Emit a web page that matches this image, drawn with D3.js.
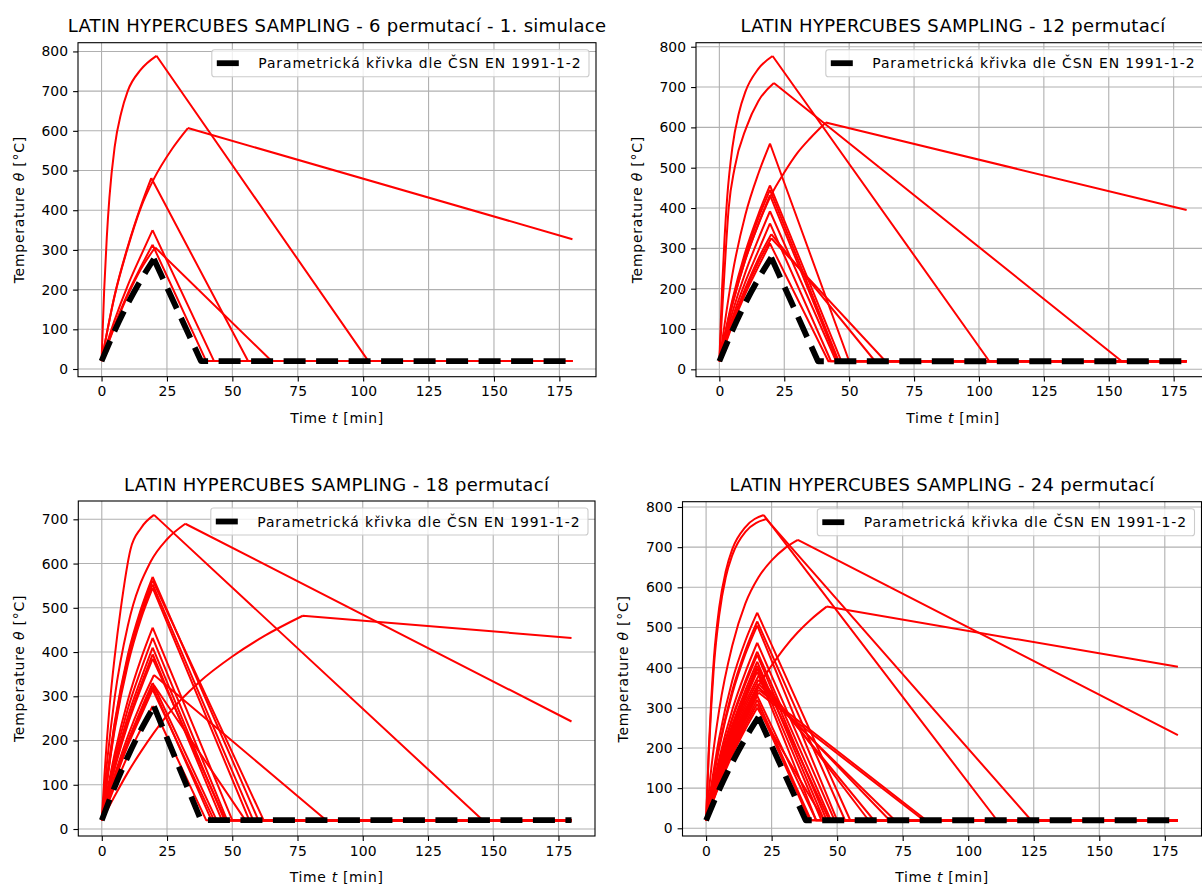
<!DOCTYPE html>
<html>
<head>
<meta charset="utf-8">
<script src="https://cdn.jsdelivr.net/npm/d3@7"></script>
<style>
  body { margin: 0; background: #fff; }
  svg { font-family: "DejaVu Sans", sans-serif; }
</style>
</head>
<body>
<svg id="fig" width="1202" height="885"></svg>
<script>
// tick labels
const xTicks = [0, 25, 50, 75, 100, 125, 150, 175];
const yTicks800 = [0, 100, 200, 300, 400, 500, 600, 700, 800];
const yTicks700 = [0, 100, 200, 300, 400, 500, 600, 700];

const titles = [
  "LATIN HYPERCUBES SAMPLING - 6 permutací - 1. simulace",
  "LATIN HYPERCUBES SAMPLING - 12 permutací",
  "LATIN HYPERCUBES SAMPLING - 18 permutací",
  "LATIN HYPERCUBES SAMPLING - 24 permutací"
];
const legendLabel = "Parametrická křivka dle ČSN EN 1991-1-2";

// each curve: h = heating points up to the peak [t, θ], c = cooling points after the peak
const reference = { h: [[0,20],[5,96],[10,164],[15,224],[20,277]], c: [[38,20],[180,20]] };

const sim6 = [
  { h: [[0,20],[1,198],[2,331],[3,431],[5,559],[7.5,645],[10,700],[15,754],[21,789]], c: [[102,20],[180,20]] },
  { h: [[0,20],[5,184],[10,305],[15,406],[20,479],[27,555],[33,607]], c: [[180,327]] },
  { h: [[0,20],[5,186],[10,308],[15,410],[19,481]], c: [[56,20],[180,20]] },
  { h: [[0,20],[5,123],[10,210],[15,285],[19.5,350]], c: [[43,20],[180,20]] },
  { h: [[0,20],[5,110],[10,190],[15,257],[19.5,313]], c: [[40,20],[180,20]] },
  { h: [[0,20],[5,107],[10,185],[15,251],[20.5,306]], c: [[65,20],[180,20]] }
];

const sim12 = [
  { h: [[0,20],[1,195],[2,325],[3,425],[5,550],[7.5,635],[10,688],[15,745],[20.5,777]], c: [[104,20],[180,20]] },
  { h: [[0,20],[1,135],[2,245],[3.6,400],[5.9,500],[10.4,600],[15,665],[21,710]], c: [[155,20],[180,20]] },
  { h: [[0,20],[5,160],[10,271],[15,359],[20,433],[25,488],[30,536],[35,573],[41,612]], c: [[180,395]] },
  { h: [[0,20],[5,235],[10,383],[15,485],[19.5,560]], c: [[50,20],[180,20]] },
  { h: [[0,20],[5,172],[10,291],[15,384],[19.5,456]], c: [[47,20],[180,20]] },
  { h: [[0,20],[5,166],[10,281],[15,374],[19.5,445]], c: [[46,20],[180,20]] },
  { h: [[0,20],[5,160],[10,272],[15,360],[19.5,432]], c: [[45.5,20],[180,20]] },
  { h: [[0,20],[5,141],[10,240],[15,323],[19.5,392]], c: [[45,20],[180,20]] },
  { h: [[0,20],[5,127],[10,217],[15,294],[19.5,362]], c: [[43,20],[180,20]] },
  { h: [[0,20],[5,118],[10,201],[15,274],[20,335]], c: [[60,20],[180,20]] },
  { h: [[0,20],[5,114],[10,195],[15,265],[20,325]], c: [[64,20],[180,20]] },
  { h: [[0,20],[5,109],[10,187],[15,254],[19.5,312]], c: [[42,20],[180,20]] }
];

const sim18 = [
  { h: [[0,20],[1,120],[2,205],[3,278],[5,392],[7.2,495],[11,632],[15,680],[20,710]], c: [[146,20],[180,20]] },
  { h: [[0,20],[2,150],[5,300],[10,460],[18.7,604],[25,655],[32,690]], c: [[180,243]] },
  { h: [[0,20],[5,75],[10,128],[15,175],[20,218],[25,257],[37.5,333],[50,390],[62.5,437],[77,482]], c: [[180,432]] },
  { h: [[0,20],[5,243],[10,394],[15,497],[19.5,570]], c: [[60,20],[180,20]] },
  { h: [[0,20],[5,238],[10,388],[15,490],[19.5,562]], c: [[62,20],[180,20]] },
  { h: [[0,20],[5,232],[10,380],[15,482],[19.5,553]], c: [[58,20],[180,20]] },
  { h: [[0,20],[5,226],[10,372],[15,475],[19.5,545]], c: [[56.5,20],[180,20]] },
  { h: [[0,20],[5,172],[10,291],[15,384],[19.5,455]], c: [[50,20],[180,20]] },
  { h: [[0,20],[5,160],[10,272],[15,360],[19.5,432]], c: [[48,20],[180,20]] },
  { h: [[0,20],[5,148],[10,254],[15,339],[19.5,410]], c: [[47,20],[180,20]] },
  { h: [[0,20],[5,141],[10,243],[15,326],[19.5,395]], c: [[46,20],[180,20]] },
  { h: [[0,20],[5,138],[10,237],[15,318],[19.5,385]], c: [[47.5,20],[180,20]] },
  { h: [[0,20],[5,123],[10,210],[15,284],[20,348]], c: [[86,20],[180,20]] },
  { h: [[0,20],[5,116],[10,198],[15,270],[19.5,330]], c: [[44,20],[180,20]] },
  { h: [[0,20],[5,114],[10,195],[15,265],[20,325]], c: [[55,20],[180,20]] },
  { h: [[0,20],[5,113],[10,193],[15,262],[19.5,322]], c: [[42,20],[180,20]] },
  { h: [[0,20],[5,110],[10,189],[15,256],[19.5,315]], c: [[43,20],[180,20]] },
  { h: [[0,20],[5,97],[10,166],[15,226],[19.5,278]], c: [[40,20],[180,20]] }
];

const sim24 = [
  { h: [[0,20],[1,195],[2,325],[3,425],[5,550],[7.5,640],[10,695],[15,750],[22,780]], c: [[111,20],[180,20]] },
  { h: [[0,20],[1,180],[2,305],[3,405],[5,530],[7.5,625],[10,680],[15,738],[23,770]], c: [[124,20],[180,20]] },
  { h: [[0,20],[2,150],[5,295],[10,455],[15,560],[20,625],[25,667],[30,697],[35,718]], c: [[180,232]] },
  { h: [[0,20],[5,130],[10,220],[15,295],[20,355],[25,405],[30,450],[35,488],[40,520],[46,552]], c: [[180,402]] },
  { h: [[0,20],[5,225],[10,368],[15,467],[19.5,537]], c: [[55,20],[180,20]] },
  { h: [[0,20],[5,205],[10,343],[15,443],[19.5,515]], c: [[53,20],[180,20]] },
  { h: [[0,20],[5,200],[10,335],[15,434],[19.5,505]], c: [[50,20],[180,20]] },
  { h: [[0,20],[5,174],[10,295],[15,389],[19.5,462]], c: [[49,20],[180,20]] },
  { h: [[0,20],[5,163],[10,276],[15,367],[19.5,440]], c: [[47.6,20],[180,20]] },
  { h: [[0,20],[5,160],[10,272],[15,360],[19.5,432]], c: [[46,20],[180,20]] },
  { h: [[0,20],[5,151],[10,258],[15,344],[19.5,415]], c: [[45,20],[180,20]] },
  { h: [[0,20],[5,146],[10,250],[15,334],[19.5,405]], c: [[47,20],[180,20]] },
  { h: [[0,20],[5,143],[10,245],[15,328],[19.5,398]], c: [[44,20],[180,20]] },
  { h: [[0,20],[5,140],[10,240],[15,322],[19.5,390]], c: [[42,20],[180,20]] },
  { h: [[0,20],[5,136],[10,233],[15,313],[20,380]], c: [[62,20],[180,20]] },
  { h: [[0,20],[5,131],[10,225],[15,304],[20,370]], c: [[64,20],[180,20]] },
  { h: [[0,20],[5,127],[10,217],[15,294],[20,360]], c: [[70,20],[180,20]] },
  { h: [[0,20],[5,124],[10,212],[15,287],[20,352]], c: [[72,20],[180,20]] },
  { h: [[0,20],[5,122],[10,207],[15,281],[20,345]], c: [[84,20],[180,20]] },
  { h: [[0,20],[5,119],[10,202],[15,275],[20,338]], c: [[83,20],[180,20]] },
  { h: [[0,20],[5,116],[10,198],[15,270],[19.5,330]], c: [[42,20],[180,20]] },
  { h: [[0,20],[5,113],[10,193],[15,262],[19.5,320]], c: [[40,20],[180,20]] },
  { h: [[0,20],[5,110],[10,188],[15,255],[19.5,310]], c: [[39.5,20],[180,20]] },
  { h: [[0,20],[5,107],[10,182],[15,247],[19.5,300]], c: [[45,20],[180,20]] }
];

const svg = d3.select("#fig");

const panels = [
  { title: titles[0], curves: sim6,  yTicks: yTicks800, l: 78,    r: 596,    t: 42.7,  b: 376.7, yDom: [-19.4, 822] },
  { title: titles[1], curves: sim12, yTicks: yTicks800, l: 696,   r: 1210,   t: 42.7,  b: 376.7, yDom: [-18.3, 810] },
  { title: titles[2], curves: sim18, yTicks: yTicks700, l: 78.3,  r: 595,    t: 501,   b: 836,   yDom: [-15.8, 741.4] },
  { title: titles[3], curves: sim24, yTicks: yTicks800, l: 682.5, r: 1201.5, t: 501.7, b: 836,   yDom: [-19.2, 813.2] }
];

function drawPanel(p, i) {
  const g = svg.append("g");
  const x = d3.scaleLinear().domain([-9, 189]).range([p.l, p.r]);
  const y = d3.scaleLinear().domain(p.yDom).range([p.b, p.t]);

  g.append("clipPath").attr("id", "clip" + i)
    .append("rect").attr("x", p.l).attr("y", p.t).attr("width", p.r - p.l).attr("height", p.b - p.t);

  // grid
  g.selectAll(".gx").data(xTicks).join("line")
    .attr("x1", d => x(d)).attr("x2", d => x(d)).attr("y1", p.t).attr("y2", p.b)
    .attr("stroke", "#b0b0b0").attr("stroke-width", 1.1);
  g.selectAll(".gy").data(p.yTicks).join("line")
    .attr("x1", p.l).attr("x2", p.r).attr("y1", d => y(d)).attr("y2", d => y(d))
    .attr("stroke", "#b0b0b0").attr("stroke-width", 1.1);

  const heat = d3.line().x(d => x(d[0])).y(d => y(d[1])).curve(d3.curveMonotoneX);
  const cool = d3.line().x(d => x(d[0])).y(d => y(d[1]));
  const pathOf = c => heat(c.h) + cool([c.h[c.h.length - 1]].concat(c.c));

  const plot = g.append("g").attr("clip-path", `url(#clip${i})`);
  plot.selectAll(".sim").data(p.curves).join("path")
    .attr("d", pathOf)
    .attr("fill", "none").attr("stroke", "#ff0000").attr("stroke-width", 2)
    .attr("stroke-linejoin", "round");
  plot.append("path")
    .attr("d", pathOf(reference))
    .attr("fill", "none").attr("stroke", "#000").attr("stroke-width", 5.8)
    .attr("stroke-dasharray", "22,10.5").attr("stroke-linejoin", "round");

  // spines
  g.append("rect").attr("x", p.l).attr("y", p.t).attr("width", p.r - p.l).attr("height", p.b - p.t)
    .attr("fill", "none").attr("stroke", "#000").attr("stroke-width", 1.1);

  const ax = g.append("g").attr("transform", `translate(0,${p.b})`)
    .call(d3.axisBottom(x).tickValues(xTicks).tickSize(4.9).tickPadding(4.9).tickSizeOuter(0));
  const ay = g.append("g").attr("transform", `translate(${p.l},0)`)
    .call(d3.axisLeft(y).tickValues(p.yTicks).tickSize(4.9).tickPadding(4.9).tickSizeOuter(0));
  [ax, ay].forEach(a => {
    a.select(".domain").remove();
    a.selectAll("line").attr("stroke", "#000").attr("stroke-width", 1.1);
    a.selectAll("text").attr("font-size", "13.9px").attr("fill", "#000")
      .attr("font-family", "DejaVu Sans").attr("letter-spacing", 0.1);
  });

  const cx = (p.l + p.r) / 2, cy = (p.t + p.b) / 2;
  g.append("text").attr("x", cx).attr("y", p.t - 10.5).attr("text-anchor", "middle")
    .attr("font-size", "18px").attr("letter-spacing", 0.3).text(p.title);

  const xl = g.append("text").attr("x", cx).attr("y", p.b + 46).attr("text-anchor", "middle")
    .attr("font-size", "13.9px").attr("letter-spacing", 0.7);
  xl.append("tspan").text("Time ");
  xl.append("tspan").attr("font-style", "italic").text("t");
  xl.append("tspan").text(" [min]");

  const yl = g.append("text").attr("transform", `translate(${p.l - 54.5},${cy}) rotate(-90)`)
    .attr("text-anchor", "middle").attr("font-size", "13.9px").attr("letter-spacing", 0.8);
  yl.append("tspan").text("Temperature ");
  yl.append("tspan").attr("font-style", "italic").text("θ");
  yl.append("tspan").text(" [°C]");

  // legend
  const lg = g.append("g");
  const box = lg.append("rect");
  const lt = lg.append("text").attr("font-size", "13.9px").attr("letter-spacing", 0.9).text(legendLabel);
  const tw = lt.node().getComputedTextLength();
  const bw = tw + 54, bh = 27;
  const bx = p.r - 7 - bw, by = p.t + 7;
  box.attr("x", bx).attr("y", by).attr("width", bw).attr("height", bh).attr("rx", 2.8)
    .attr("fill", "#fff").attr("fill-opacity", 0.8).attr("stroke", "#cccccc").attr("stroke-width", 1.1);
  lt.attr("x", bx + 46.5).attr("y", by + bh / 2 + 5);
  lg.append("line").attr("x1", bx + 5).attr("x2", bx + 32.8)
    .attr("y1", by + bh / 2).attr("y2", by + bh / 2)
    .attr("stroke", "#000").attr("stroke-width", 5.8).attr("stroke-dasharray", "22,10.5");
}

panels.forEach(drawPanel);
</script>
</body>
</html>
